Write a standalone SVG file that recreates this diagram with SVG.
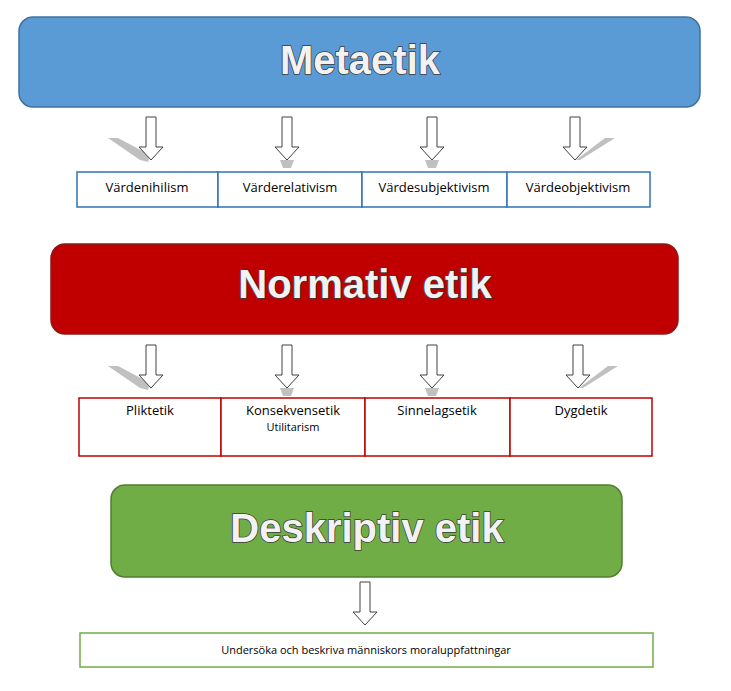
<svg xmlns="http://www.w3.org/2000/svg" width="731" height="691" viewBox="0 0 731 691">
<style>
.title{font-family:"Liberation Sans",Arial,sans-serif;font-weight:bold;font-size:40px;fill:#f2f2f2;stroke:#3a3a3a;stroke-width:1.5px;paint-order:stroke;text-anchor:middle}
.lbl{font-family:"Open Sans","Liberation Sans",sans-serif;font-size:13px;fill:#000;text-anchor:middle}
.small{font-family:"Open Sans","Liberation Sans",sans-serif;font-size:11px;fill:#000;text-anchor:middle}
.arr{fill:#fff;stroke:#404040;stroke-width:1}
.sh{fill:#b0b0b0;opacity:0.8}
</style>
<defs>
<path id="a" class="arr" d="M-5,0 H5 V30 H12 L0,43 L-12,30 H-5 Z"/>
</defs>
<rect width="731" height="691" fill="#fff"/>
<g id="metaetik"><rect x="19" y="17" width="681" height="90" rx="14" fill="#5b9bd5" stroke="#41719c" stroke-width="1.5"/><text class="title" x="360" y="74">Metaetik</text></g>
<g id="normativ"><rect x="51" y="244" width="627" height="90" rx="14" fill="#c00000" stroke="#8b1a1a" stroke-width="1.5"/><text class="title" x="365" y="298">Normativ etik</text></g>
<g id="deskriptiv"><rect x="111" y="485" width="511" height="92" rx="14" fill="#70ad47" stroke="#507e32" stroke-width="1.5"/><text class="title" x="367" y="542">Deskriptiv etik</text></g>
<g id="connectors">
<polygon class="sh" points="108,138 118,138 150,155 148,162 140,160"/>
<polygon class="sh" points="280,160 294,160 291,168 283,168"/>
<polygon class="sh" points="425,160 439,160 436,168 428,168"/>
<polygon class="sh" points="605,138 615,138 580,160 576,160"/>
<use href="#a" x="151" y="117"/><use href="#a" x="287" y="117"/><use href="#a" x="432" y="117"/><use href="#a" x="575" y="117"/>
<polygon class="sh" points="108,366 118,366 150,383 148,390 140,388"/>
<polygon class="sh" points="280,388 294,388 291,396 283,396"/>
<polygon class="sh" points="425,388 439,388 436,396 428,396"/>
<polygon class="sh" points="608,366 618,366 583,388 579,388"/>
<use href="#a" x="151" y="345"/><use href="#a" x="287" y="345"/><use href="#a" x="432" y="345"/><use href="#a" x="578" y="345"/>
<use href="#a" x="365" y="582"/>
</g>
<g id="row1" fill="#fff" stroke="#2e75b6" stroke-width="1.5">
<rect x="77" y="172" width="141" height="35"/><rect x="218" y="172" width="144" height="35"/><rect x="362" y="172" width="145" height="35"/><rect x="507" y="172" width="143" height="35"/>
</g>
<g id="vardenihilism"><text class="lbl" x="147" y="192">Värdenihilism</text></g>
<g id="varderelativism"><text class="lbl" x="290" y="192">Värderelativism</text></g>
<g id="vardesubjektivism"><text class="lbl" x="434" y="192">Värdesubjektivism</text></g>
<g id="vardeobjektivism"><text class="lbl" x="578" y="192">Värdeobjektivism</text></g>
<g id="row2" fill="#fff" stroke="#c00000" stroke-width="1.5">
<rect x="79" y="398" width="142" height="58"/><rect x="221" y="398" width="144" height="58"/><rect x="365" y="398" width="145" height="58"/><rect x="510" y="398" width="142" height="58"/>
</g>
<g id="plikt"><text class="lbl" x="150" y="415">Pliktetik</text></g>
<g id="konsekvens"><text class="lbl" x="293" y="415">Konsekvensetik</text><text class="small" x="293" y="431">Utilitarism</text></g>
<g id="sinnelag"><text class="lbl" x="437" y="415">Sinnelagsetik</text></g>
<g id="dygd"><text class="lbl" x="581" y="415">Dygdetik</text></g>
<g id="undersoka"><rect x="80" y="633" width="573" height="34" fill="#fff" stroke="#70ad47" stroke-width="1.5"/><text class="small" x="366" y="654">Undersöka och beskriva människors moraluppfattningar</text></g>
</svg>
